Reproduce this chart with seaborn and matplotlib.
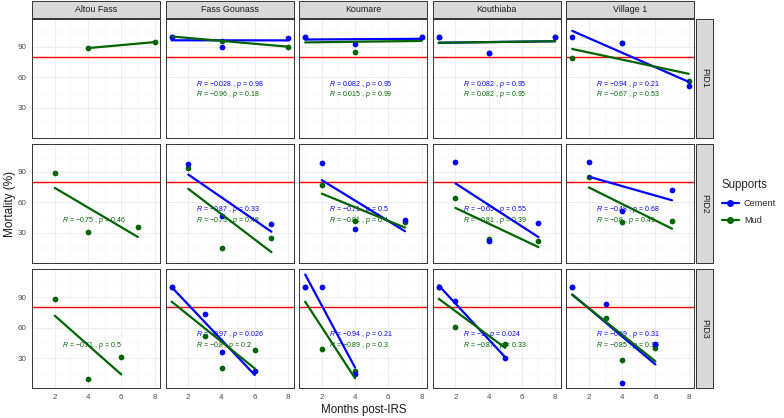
#Mortality vs months post-IRS, faceted by PID and village
import pandas as pd
import seaborn as sns
from matplotlib import pyplot as plt
from matplotlib.patches import Rectangle
from matplotlib.lines import Line2D

sns.set_theme(style="white")
plt.rcParams['font.family'] = ['Liberation Sans', 'DejaVu Sans']
plt.rcParams['mathtext.fontset'] = 'custom'
plt.rcParams['mathtext.it'] = 'Liberation Sans:italic'
plt.rcParams['mathtext.rm'] = 'Liberation Sans'

sites = ["Altou Fass", "Fass Gounass", "Koumare", "Kouthiaba", "Village 1"]
pids = ["PID1", "PID2", "PID3"]
supports = ["Cement", "Mud"]
colors = {"Cement": "blue", "Mud": "darkgreen"}

#(months, mortality %)
#PID1
altou_pid1_mud = ([4, 8], [88.7, 94.6])
fass_pid1_cem = ([1, 4, 8], [100, 90, 99])
fass_pid1_mud = ([1, 4, 8], [100, 96, 90])
koum_pid1_cem = ([1, 4, 8], [100, 92.4, 100])
koum_pid1_mud = ([1, 4, 8], [100, 85, 100])
kouth_pid1_cem = ([1, 4, 8], [100, 84, 100])
kouth_pid1_mud = ([1, 4, 8], [100, 84, 100])
vill_pid1_cem = ([1, 4, 8], [100, 94, 51.3])
vill_pid1_mud = ([1, 4, 8], [78.6, 93.5, 56.5])
#PID2
altou_pid2_mud = ([2, 4, 7], [89, 30.5, 35.8])
fass_pid2_cem = ([2, 4, 7], [98.2, 47, 38.4])
fass_pid2_mud = ([2, 4, 7], [93.6, 14.7, 24.6])
koum_pid2_cem = ([2, 4, 7], [98.9, 33.5, 43])
koum_pid2_mud = ([2, 4, 7], [76.8, 41.7, 40.7])
kouth_pid2_cem = ([2, 4, 7], [100, 22.3, 40])
kouth_pid2_mud = ([2, 4, 7], [64, 23.6, 22.3])
vill_pid2_cem = ([2, 4, 7], [100, 51.6, 71.9])
vill_pid2_mud = ([2, 4, 7], [85.4, 40.7, 41.3])
#PID3
altou_pid3_mud = ([2, 4, 6], [88.4, 9.5, 30.6])
fass_pid3_cem = ([1, 3, 4, 6], [100, 72.9, 36, 17.4])
fass_pid3_mud = ([1, 3, 4, 6], [100, 52, 20.7, 37.9])
koum_pid3_cem = ([1, 2, 4], [100, 100, 14.5])
koum_pid3_mud = ([1, 2, 4], [100, 38.5, 17.4])
kouth_pid3_cem = ([1, 2, 5], [100, 85.7, 30.3])
kouth_pid3_mud = ([1, 2, 5], [100, 60.7, 43.9])
vill_pid3_cem = ([1, 3, 4, 6], [100, 83, 5.8, 43.9])
vill_pid3_mud = ([1, 3, 4, 6], [100, 69.2, 28.6, 40.2])

series = [
    ("PID1", "Altou Fass", "Mud", altou_pid1_mud),
    ("PID1", "Fass Gounass", "Cement", fass_pid1_cem),
    ("PID1", "Fass Gounass", "Mud", fass_pid1_mud),
    ("PID1", "Koumare", "Cement", koum_pid1_cem),
    ("PID1", "Koumare", "Mud", koum_pid1_mud),
    ("PID1", "Kouthiaba", "Cement", kouth_pid1_cem),
    ("PID1", "Kouthiaba", "Mud", kouth_pid1_mud),
    ("PID1", "Village 1", "Cement", vill_pid1_cem),
    ("PID1", "Village 1", "Mud", vill_pid1_mud),
    ("PID2", "Altou Fass", "Mud", altou_pid2_mud),
    ("PID2", "Fass Gounass", "Cement", fass_pid2_cem),
    ("PID2", "Fass Gounass", "Mud", fass_pid2_mud),
    ("PID2", "Koumare", "Cement", koum_pid2_cem),
    ("PID2", "Koumare", "Mud", koum_pid2_mud),
    ("PID2", "Kouthiaba", "Cement", kouth_pid2_cem),
    ("PID2", "Kouthiaba", "Mud", kouth_pid2_mud),
    ("PID2", "Village 1", "Cement", vill_pid2_cem),
    ("PID2", "Village 1", "Mud", vill_pid2_mud),
    ("PID3", "Altou Fass", "Mud", altou_pid3_mud),
    ("PID3", "Fass Gounass", "Cement", fass_pid3_cem),
    ("PID3", "Fass Gounass", "Mud", fass_pid3_mud),
    ("PID3", "Koumare", "Cement", koum_pid3_cem),
    ("PID3", "Koumare", "Mud", koum_pid3_mud),
    ("PID3", "Kouthiaba", "Cement", kouth_pid3_cem),
    ("PID3", "Kouthiaba", "Mud", kouth_pid3_mud),
    ("PID3", "Village 1", "Cement", vill_pid3_cem),
    ("PID3", "Village 1", "Mud", vill_pid3_mud),
]

#correlation labels per panel (row = PID, column = site)
cor_cement = {
    "PID1": [None, "−0.028 , $p$ = 0.98", "0.082 , $p$ = 0.95", "0.082 , $p$ = 0.95", "−0.94 , $p$ = 0.21"],
    "PID2": [None, "−0.87 , $p$ = 0.33", "−0.71 , $p$ = 0.5", "−0.65 , $p$ = 0.55", "−0.48 , $p$ = 0.68"],
    "PID3": [None, "−0.97 , $p$ = 0.026", "−0.94 , $p$ = 0.21", "−1 , $p$ = 0.024", "−0.69 , $p$ = 0.31"],
}
cor_mud = {
    "PID1": [None, "−0.96 , $p$ = 0.18", "0.015 , $p$ = 0.99", "0.082 , $p$ = 0.95", "−0.67 , $p$ = 0.53"],
    "PID2": ["−0.75 , $p$ = 0.46", "−0.73 , $p$ = 0.48", "−0.81 , $p$ = 0.4", "−0.81 , $p$ = 0.39", "−0.8 , $p$ = 0.41"],
    "PID3": ["−0.71 , $p$ = 0.5", "−0.8 , $p$ = 0.2", "−0.89 , $p$ = 0.3", "−0.87 , $p$ = 0.33", "−0.85 , $p$ = 0.15"],
}

rows = []
for pid, site, sup, (mx, my) in series:
    for a, b in zip(mx, my):
        rows.append({"pid": pid, "site": site, "support": sup, "month": a, "mortality": b})
df = pd.DataFrame(rows)

fig = plt.figure(figsize=(7.84, 4.18), dpi=100)
axes = fig.subplots(3, 5, sharex=True, sharey=True)
fig.subplots_adjust(left=0.0412, right=0.8858, bottom=0.0718, top=0.9545, wspace=0.043, hspace=0.055)

for i, pid in enumerate(pids):
    for j, site in enumerate(sites):
        ax = axes[i, j]
        ax.set_facecolor("white")
        ax.axhline(80, color="#FF0000", lw=1.0, zorder=1.5)
        sub = df[(df.pid == pid) & (df.site == site)]
        #mud points first so cement points sit on top
        for sup in ["Mud", "Cement"]:
            d = sub[sub.support == sup]
            if len(d) == 0:
                continue
            sns.scatterplot(data=d, x="month", y="mortality", color=colors[sup], s=17,
                            linewidth=0, ax=ax, zorder=3, legend=False)
        for sup in supports:
            d = sub[sub.support == sup]
            if len(d) == 0:
                continue
            sns.regplot(data=d, x="month", y="mortality", scatter=False, ci=None,
                        color=colors[sup], truncate=True, ax=ax,
                        line_kws={"lw": 1.6, "zorder": 4})
        labs = [(cor_cement[pid][j], "Cement", 52.8), (cor_mud[pid][j], "Mud", 42.6)]
        for lab, sup, yy in labs:
            if lab is not None:
                ax.text(2.45, yy, "$R$ = " + lab, color=colors[sup], fontsize=5.0,
                        ha="left", va="center", zorder=2)
        ax.set_xlim(0.65, 8.35)
        ax.set_ylim(0.6, 117.3)
        ax.set_xticks([2, 4, 6, 8])
        ax.set_xticks([1, 3, 5, 7], minor=True)
        ax.set_yticks([30, 60, 90])
        ax.set_yticks([15, 45, 75, 105], minor=True)
        ax.grid(which="major", color="#EBEBEB", lw=0.6)
        ax.grid(which="minor", color="#F3F3F3", lw=0.35)
        ax.set_axisbelow(True)
        ax.set_xlabel("")
        ax.set_ylabel("")
        for sp in ax.spines.values():
            sp.set_color("#333333")
            sp.set_linewidth(0.7)
        ax.tick_params(which="minor", length=0)
        ax.tick_params(which="major", length=0, labelsize=5.8, labelcolor="#4D4D4D", pad=2)
        if j == 0:
            ax.tick_params(axis="y", which="major", length=2.5, width=0.5, color="#333333")
        if i == 2:
            ax.tick_params(axis="x", which="major", length=2.5, width=0.5, color="#333333")
        #strips
        if i == 0:
            ax.add_patch(Rectangle((0, 1.005), 1, 0.147, transform=ax.transAxes, clip_on=False,
                                   facecolor="#D9D9D9", edgecolor="#333333", lw=0.7))
            ax.text(0.5, 1.079, site, transform=ax.transAxes, ha="center", va="center",
                    fontsize=6.4, color="#1A1A1A")
        if j == 4:
            ax.add_patch(Rectangle((1.01, 0), 0.133, 1, transform=ax.transAxes, clip_on=False,
                                   facecolor="#D9D9D9", edgecolor="#333333", lw=0.7))
            ax.text(1.077, 0.5, pid, transform=ax.transAxes, ha="center", va="center",
                    rotation=-90, fontsize=6.4, color="#1A1A1A")

fig.text(0.4635, 0.019, "Months post-IRS", ha="center", va="center", fontsize=8.3, color="#1A1A1A")
fig.text(0.013, 0.513, "Mortality (%)", ha="center", va="center", rotation=90, fontsize=8.5, color="#1A1A1A")

handles = [Line2D([0], [0], color=colors[s], lw=1.6, marker="o", ms=4) for s in supports]
fig.legend(handles, supports, title="Supports", loc="center left",
           bbox_to_anchor=(722 / 784, 0.517), frameon=False, fontsize=6.6,
           title_fontsize=8.3, handlelength=1.8, handletextpad=0.6, labelspacing=0.9,
           borderpad=0, borderaxespad=0, alignment="left")

plt.savefig("out.png", dpi=100)
